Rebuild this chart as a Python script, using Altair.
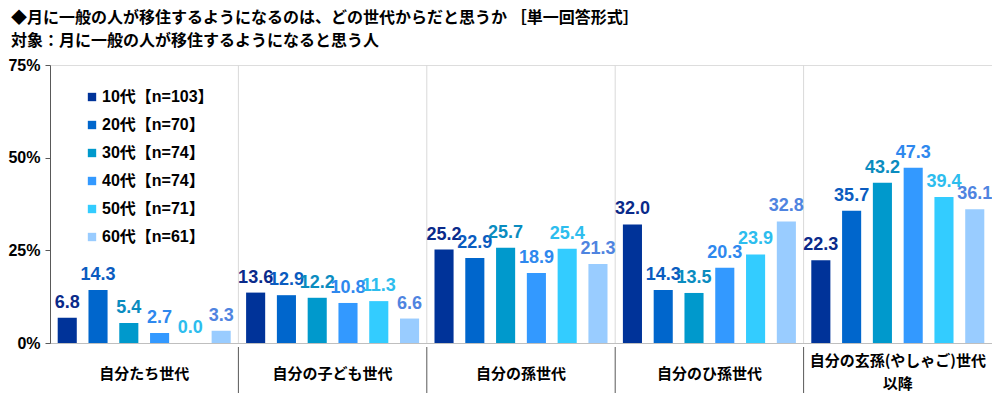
import altair as alt
import pandas as pd

title_lines = [
    "◆月に一般の人が移住するようになるのは、どの世代からだと思うか ［単一回答形式］",
    "対象：月に一般の人が移住するようになると思う人",
]
categories = [
    "自分たち世代",
    "自分の子ども世代",
    "自分の孫世代",
    "自分のひ孫世代",
    "自分の玄孫(やしゃご)世代\n以降",
]
ages = ["10代【n=103】", "20代【n=70】", "30代【n=74】", "40代【n=74】", "50代【n=71】", "60代【n=61】"]
values_10 = [6.8, 13.6, 25.2, 32.0, 22.3]
values_20 = [14.3, 12.9, 22.9, 14.3, 35.7]
values_30 = [5.4, 12.2, 25.7, 13.5, 43.2]
values_40 = [2.7, 10.8, 18.9, 20.3, 47.3]
values_50 = [0.0, 11.3, 25.4, 23.9, 39.4]
values_60 = [3.3, 6.6, 21.3, 32.8, 36.1]
bar_colors = ["#003399", "#0066CC", "#0099CC", "#3399FF", "#33CCFF", "#99CCFF"]
label_colors = ["#0A2A8A", "#0A5CC0", "#0A8CBF", "#2E88EE", "#2DBDEE", "#4F84E0"]
y_ticks = [0, 25, 50, 75]

series = [values_10, values_20, values_30, values_40, values_50, values_60]
rows = []
for age, vals, lc in zip(ages, series, label_colors):
    for cat, v in zip(categories, vals):
        rows.append({"cat": cat, "age": age, "value": v, "tc": lc})
df = pd.DataFrame(rows)
sep_df = pd.DataFrame({"cat": categories[1:]})

W, H = 942, 278
JP = "Noto Sans CJK JP"
MIX = "Liberation Sans, Noto Sans CJK JP"

xscale = alt.Scale(domain=categories, paddingInner=0, paddingOuter=0)
x_enc = alt.X(
    "cat:N",
    sort=categories,
    scale=xscale,
    title=None,
    axis=alt.Axis(
        labelAngle=0,
        labelAlign="center",
        ticks=False,
        grid=False,
        domainColor="#bfbfbf",
        labelFont=JP,
        labelFontSize=15,
        labelFontWeight="bold",
        labelColor="#000000",
        labelBaseline="middle",
        labelPadding={"condition": {"test": "indexof(datum.value, '\\n') >= 0", "value": 17}, "value": 30},
        labelLineHeight=23,
        labelLimit=0,
        labelExpr="split(datum.label, '\\n')",
    ),
)
xo_enc = alt.XOffset("age:N", sort=ages, scale=alt.Scale(paddingInner=0.38, paddingOuter=0.25))
y_enc = alt.Y(
    "value:Q",
    scale=alt.Scale(domain=[0, 75], nice=False),
    title=None,
    axis=alt.Axis(
        values=y_ticks,
        grid=False,
        domainColor="#595959",
        tickColor="#595959",
        tickSize=5,
        labelPadding=5,
        labelFont="Liberation Sans",
        labelFontSize=16,
        labelFontWeight="bold",
        labelColor="#000000",
        labelExpr="datum.value + '%'",
    ),
)

bars = alt.Chart(df).mark_bar().encode(
    x=x_enc,
    xOffset=xo_enc,
    y=y_enc,
    color=alt.Color(
        "age:N",
        sort=ages,
        scale=alt.Scale(domain=ages, range=bar_colors),
        legend=alt.Legend(
            title=None,
            orient="none",
            legendX=34,
            legendY=24,
            symbolType="square",
            symbolSize=70,
            symbolStrokeWidth=0,
            labelFont=MIX,
            labelFontSize=16,
            labelFontWeight="bold",
            labelColor="#000000",
            rowPadding=12,
            labelOffset=2,
        ),
    ),
)

labels = alt.Chart(df).mark_text(
    baseline="alphabetic", dy=-10, fontSize=18, fontWeight="bold", font="Liberation Sans"
).encode(
    x=alt.X("cat:N", sort=categories, scale=xscale),
    xOffset=xo_enc,
    y=alt.Y("value:Q"),
    text=alt.Text("value:Q", format=".1f"),
    color=alt.Color("tc:N", scale=None),
)

sep_in = alt.Chart(sep_df).mark_rule(color="#d9d9d9", strokeWidth=1).encode(
    x=alt.X("cat:N", sort=categories, scale=xscale, bandPosition=0),
    y=alt.value(0),
    y2=alt.value(H),
)
sep_out = alt.Chart(sep_df).mark_rule(color="#595959", strokeWidth=1, clip=False).encode(
    x=alt.X("cat:N", sort=categories, scale=xscale, bandPosition=0),
    y=alt.value(H + 4),
    y2=alt.value(H + 50),
)

chart = (
    alt.layer(sep_in, sep_out, bars, labels)
    .properties(
        width=W,
        height=H,
        autosize=alt.AutoSizeParams(type="none"),
        padding={"left": 42, "top": 57, "right": 0, "bottom": 50},
        title=alt.TitleParams(
            text=title_lines,
            anchor="start",
            frame="group",
            dx=-39,
            offset=8,
            font=JP,
            fontSize=16,
            fontWeight="bold",
            color="#000000",
            lineHeight=23,
        ),
    )
    .configure_view(stroke="#d9d9d9")
    .configure(background="white")
)

chart.save("out.html", embed_options={"renderer": "svg", "actions": False})
